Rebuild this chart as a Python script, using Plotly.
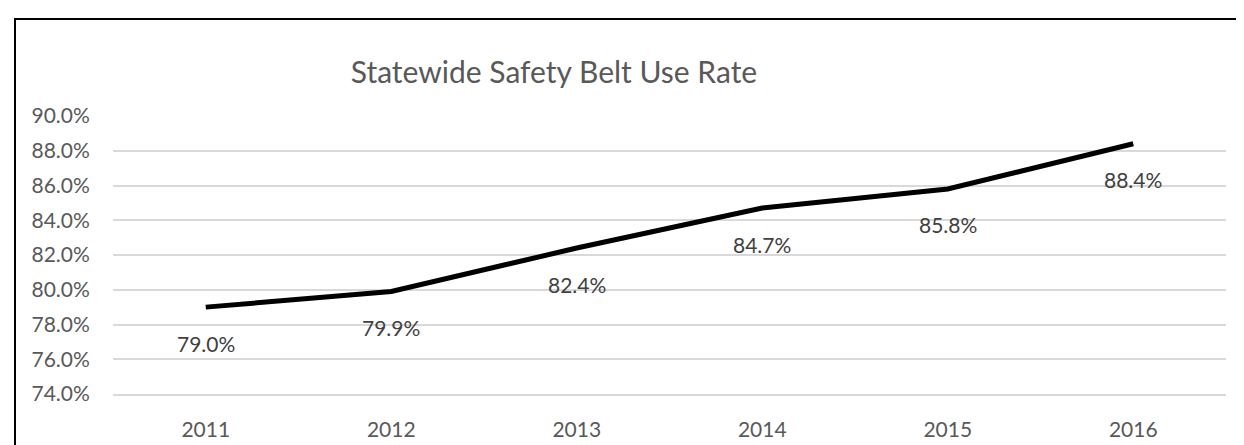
import plotly.graph_objects as go

years = ["2011", "2012", "2013", "2014", "2015", "2016"]
rates = [79.0, 79.9, 82.4, 84.7, 85.8, 88.4]
y_ticks = [74, 76, 78, 80, 82, 84, 86, 88, 90]
y_tick_labels = [f"{v:.1f}%" for v in y_ticks]
title_text = "Statewide Safety Belt Use Rate"

FONT = "Lato, Calibri, Carlito, sans-serif"

fig = go.Figure()
fig.add_trace(go.Scatter(
    x=list(range(len(years))), y=rates, mode="lines",
    line=dict(color="#000000", width=5),
    hoverinfo="skip", showlegend=False,
))

annotations = [
    dict(x=i, y=v, xref="x", yref="y", text=f"{v:.1f}%", showarrow=False,
         yshift=-36, xanchor="center", yanchor="middle",
         font=dict(family=FONT, size=21, color="#404040"))
    for i, v in enumerate(rates)
]

W, H = 1244, 445
L, R, T, B = 105, 26, 108, 56
pw, ph = W - L - R, H - T - B

fig.update_layout(
    width=W, height=H,
    margin=dict(l=L, r=R, t=T, b=B),
    paper_bgcolor="white", plot_bgcolor="white",
    font=dict(family=FONT, size=21, color="#595959"),
    title=dict(text=title_text, font=dict(family=FONT, size=30, color="#595959"),
               x=(546 - L) / pw, xref="paper", xanchor="center",
               y=1 - 64 / H, yref="container", yanchor="middle"),
    annotations=annotations,
    shapes=[dict(type="rect", xref="paper", yref="paper",
                 x0=(7 - L) / pw, x1=1.3, y0=-0.6, y1=(H - B - 10) / ph,
                 line=dict(color="#000000", width=2), fillcolor="rgba(0,0,0,0)",
                 layer="above")],
)
fig.update_xaxes(
    range=[-0.5, len(years) - 0.5], tickvals=list(range(len(years))), ticktext=years,
    showgrid=False, zeroline=False,
    showline=True, linecolor="#d9d9d9", linewidth=1.5,
    ticks="outside", ticklen=16, tickcolor="rgba(0,0,0,0)",
    tickfont=dict(family=FONT, size=21, color="#595959"),
)
fig.update_yaxes(
    range=[74, 90], tickvals=y_ticks, ticktext=y_tick_labels,
    showgrid=True, gridcolor="#d9d9d9", gridwidth=1.5, zeroline=False,
    showline=False, ticks="outside", ticklen=18, tickcolor="rgba(0,0,0,0)",
    tickfont=dict(family=FONT, size=21, color="#595959"),
)

fig.write_html("out.html")
